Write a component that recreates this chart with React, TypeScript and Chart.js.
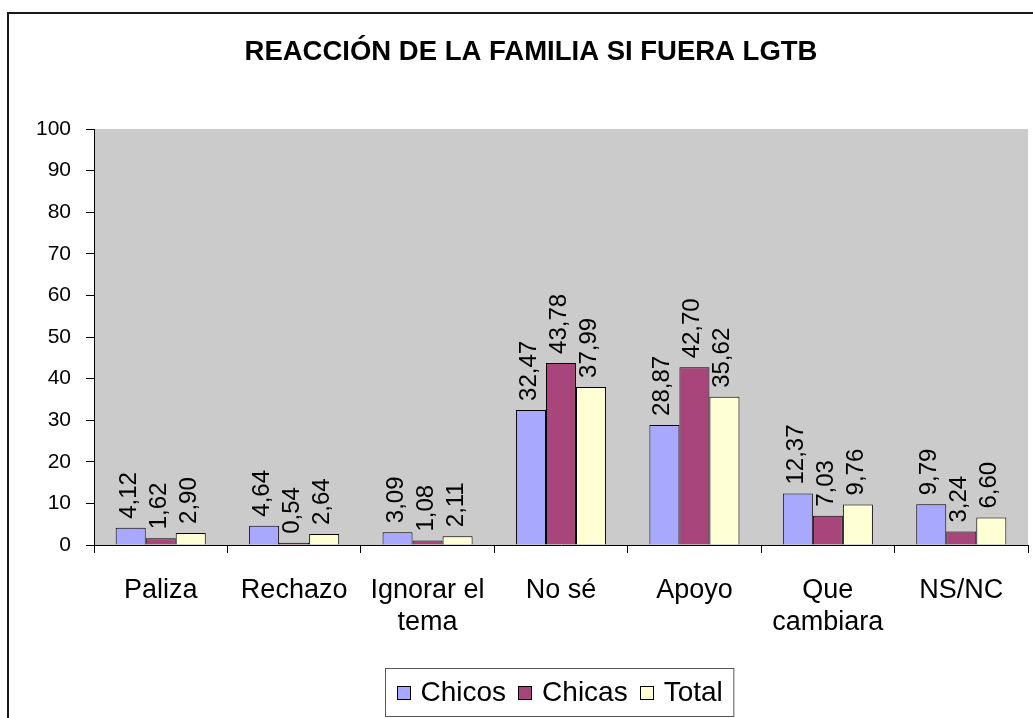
import React, { useEffect, useRef } from "react";
import { Chart, registerables } from "chart.js";

Chart.register(...registerables);

const title = "REACCIÓN DE LA FAMILIA SI FUERA LGTB";
const categories: (string | string[])[] = [
  "Paliza",
  "Rechazo",
  ["Ignorar el", "tema"],
  "No sé",
  "Apoyo",
  ["Que", "cambiara"],
  "NS/NC",
];
const seriesNames = ["Chicos", "Chicas", "Total"];
const chicos = [4.12, 4.64, 3.09, 32.47, 28.87, 12.37, 9.79];
const chicas = [1.62, 0.54, 1.08, 43.78, 42.7, 7.03, 3.24];
const total = [2.9, 2.64, 2.11, 37.99, 35.62, 9.76, 6.6];
const yMin = 0;
const yMax = 100;
const yStep = 10;

const colors = ["#A8A8FF", "#A8457A", "#FFFFD5"];
const FONT = "'Liberation Sans', Arial, sans-serif";

const fmt = (v: number) => v.toFixed(2).replace(".", ",");

const framePlugin = {
  id: "frame",
  beforeDraw(chart: any) {
    const { ctx, chartArea, width, height } = chart;
    ctx.save();
    ctx.fillStyle = "#FFFFFF";
    ctx.fillRect(0, 0, width, height);
    ctx.strokeStyle = "#1a1a1a";
    ctx.lineWidth = 2;
    ctx.beginPath();
    ctx.moveTo(8, height + 5);
    ctx.lineTo(8, 13);
    ctx.lineTo(width + 5, 13);
    ctx.stroke();
    ctx.fillStyle = "#CBCBCB";
    ctx.fillRect(
      chartArea.left,
      chartArea.top,
      chartArea.right - chartArea.left,
      chartArea.bottom - chartArea.top
    );
    ctx.fillStyle = "#000";
    ctx.font = `bold 27.5px ${FONT}`;
    ctx.textAlign = "center";
    ctx.textBaseline = "middle";
    ctx.fillText(title, 531, 52);
    ctx.restore();
  },
};

const labelsPlugin = {
  id: "barLabels",
  afterDatasetsDraw(chart: any) {
    const { ctx } = chart;
    ctx.save();
    ctx.font = `24px ${FONT}`;
    ctx.fillStyle = "#000";
    ctx.textAlign = "left";
    ctx.textBaseline = "alphabetic";
    chart.data.datasets.forEach((ds: any, i: number) => {
      const meta = chart.getDatasetMeta(i);
      meta.data.forEach((el: any, j: number) => {
        const v = ds.data[j];
        ctx.save();
        ctx.translate(el.x + 5, el.y - 9);
        ctx.rotate(-Math.PI / 2);
        ctx.fillText(fmt(v), 0, 0);
        ctx.restore();
      });
    });
    ctx.restore();
  },
};

const legendPlugin = {
  id: "customLegend",
  afterDraw(chart: any) {
    const { ctx, chartArea } = chart;
    ctx.save();
    ctx.font = `28px ${FONT}`;
    const sq = 13;
    const gapSq = 11;
    const gapItem = 12;
    const widths = seriesNames.map((n) => ctx.measureText(n).width);
    const content =
      widths.reduce((a, b) => a + b, 0) + seriesNames.length * (sq + gapSq) + (seriesNames.length - 1) * gapItem;
    const boxW = content + 22;
    const cx = (chartArea.left + chartArea.right) / 2 - 2;
    const left = Math.round(cx - boxW / 2) + 0.5;
    const top = 668.5;
    const boxH = 48;
    ctx.fillStyle = "#FFFFFF";
    ctx.fillRect(left, top, boxW, boxH);
    ctx.strokeStyle = "#555";
    ctx.lineWidth = 1;
    ctx.strokeRect(left, top, boxW, boxH);
    const cy = top + boxH / 2;
    let x = left + 11;
    ctx.textBaseline = "middle";
    ctx.textAlign = "left";
    seriesNames.forEach((n, i) => {
      ctx.fillStyle = colors[i];
      ctx.fillRect(Math.round(x) + 0.5, Math.round(cy - sq / 2) + 0.5, sq, sq);
      ctx.strokeStyle = "#000";
      ctx.strokeRect(Math.round(x) + 0.5, Math.round(cy - sq / 2) + 0.5, sq, sq);
      ctx.fillStyle = "#000";
      ctx.fillText(n, x + sq + gapSq, cy + 1);
      x += sq + gapSq + widths[i] + gapItem;
    });
    ctx.restore();
  },
};

export default function App() {
  const ref = useRef<HTMLCanvasElement | null>(null);
  useEffect(() => {
    if (!ref.current) return;
    const series = [chicos, chicas, total];
    const chart = new Chart(ref.current, {
      type: "bar",
      data: {
        labels: categories,
        datasets: seriesNames.map((name, i) => ({
          label: name,
          data: series[i],
          backgroundColor: colors[i],
          borderColor: "#000",
          borderWidth: 1,
          categoryPercentage: 0.675,
          barPercentage: 1,
        })),
      },
      options: {
        animation: false,
        responsive: false,
        devicePixelRatio: 1,
        layout: { padding: { left: 0, top: 129, right: 5, bottom: 73 } },
        plugins: {
          legend: { display: false },
          title: { display: false },
          tooltip: { enabled: false },
        },
        scales: {
          x: {
            offset: true,
            grid: {
              display: true,
              offset: true,
              drawOnChartArea: false,
              drawTicks: true,
              tickLength: 8,
              color: "#000",
            },
            border: { display: true, color: "#000", width: 1 },
            ticks: {
              color: "#000",
              font: { family: FONT, size: 27, lineHeight: 1.2 },
              padding: 21,
              maxRotation: 0,
              minRotation: 0,
              autoSkip: false,
            },
            afterFit(scale: any) {
              scale.height = 100;
            },
          },
          y: {
            min: yMin,
            max: yMax,
            grid: {
              display: true,
              drawOnChartArea: false,
              drawTicks: true,
              tickLength: 8,
              color: "#000",
            },
            border: { display: true, color: "#000", width: 1 },
            ticks: {
              stepSize: yStep,
              color: "#000",
              font: { family: FONT, size: 21 },
              padding: 15,
            },
            afterFit(scale: any) {
              scale.width = 94;
            },
          },
        },
      },
      plugins: [framePlugin, labelsPlugin, legendPlugin],
    });
    return () => chart.destroy();
  }, []);
  return (
    <div style={{ position: "absolute", left: 0, top: 0, width: 1033, height: 718 }}>
      <canvas ref={ref} width={1033} height={718} />
    </div>
  );
}
